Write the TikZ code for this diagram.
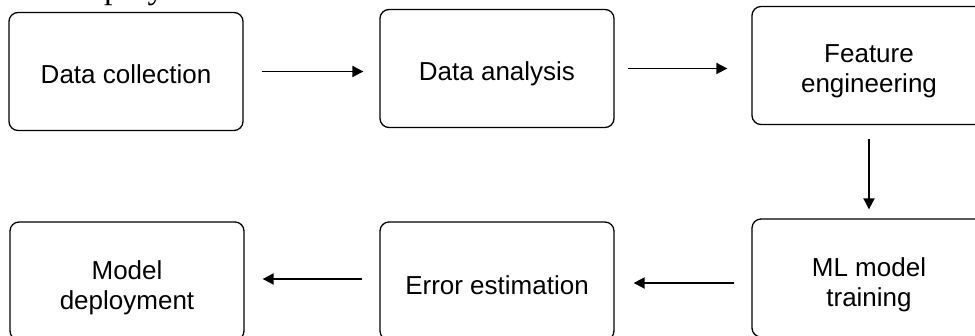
\documentclass[tikz,border=0pt]{standalone}
\usepackage{fontspec}
\setmainfont{Liberation Sans}
\newfontfamily\serifcut{Liberation Serif}
\usetikzlibrary{arrows.meta}
\tikzset{
  stagebox/.style={draw=black, line width=1.3pt, rounded corners=9pt,
    minimum width=234pt, minimum height=118pt, inner sep=0pt},
  stagetext/.style={anchor=base, align=center, inner sep=0pt,
    font=\fontsize{26}{30}\selectfont},
  flow/.style={line width=1.9pt, -{Triangle[length=11pt,width=11pt]}}
}
\begin{document}
\begin{tikzpicture}[x=1pt,y=1pt]
  \useasboundingbox (0,0) rectangle (975,-336);
  \begin{scope}
    \clip (0,0) rectangle (975,-336);
    % tail of a text line cut off at the top edge
    \node[anchor=base west, inner sep=0pt, font=\serifcut\fontsize{34}{34}\selectfont]
      (cut) at (104,1) {ploy};
    % stage boxes
    \node[stagebox] (dc)  at (126,-71.5) {};
    \node[stagebox] (da)  at (497,-68.5) {};
    \node[stagebox] (fe)  at (869,-65.5) {};
    \node[stagebox] (ml)  at (869,-278)  {};
    \node[stagebox] (err) at (497,-281)  {};
    \node[stagebox] (md)  at (127,-281)  {};
    % stage labels (base anchor sits on the last line)
    \node[stagetext] (dct)  at ([yshift=-12.5pt]dc.center)  {Data collection};
    \node[stagetext] (dat)  at ([yshift=-12.5pt]da.center)  {Data analysis};
    \node[stagetext] (fet)  at ([yshift=-27.5pt]fe.center)  {Feature\\engineering};
    \node[stagetext] (mlt)  at ([yshift=-29pt]ml.center)    {ML model\\training};
    \node[stagetext] (errt) at ([yshift=-14pt]err.center)   {Error estimation};
    \node[stagetext] (mdt)  at ([yshift=-29pt]md.center)    {Model\\deployment};
  \end{scope}
  % flow between stages
  \draw[flow, shorten <=18pt, shorten >=16pt] (dc.east) -- (dc.east -| da.west);
  \draw[flow, shorten <=13pt, shorten >=24pt] (da.east) -- (da.east -| fe.west);
  \draw[flow, shorten <=14pt, shorten >=9pt]  (fe.south) -- (ml.north);
  \draw[flow, shorten <=17pt, shorten >=19pt] ([yshift=-5pt]ml.west) -- ([yshift=-5pt]ml.west -| err.east);
  \draw[flow, shorten <=17pt, shorten >=18pt] ([yshift=2pt]err.west) -- ([yshift=2pt]err.west -| md.east);
\end{tikzpicture}
\end{document}
